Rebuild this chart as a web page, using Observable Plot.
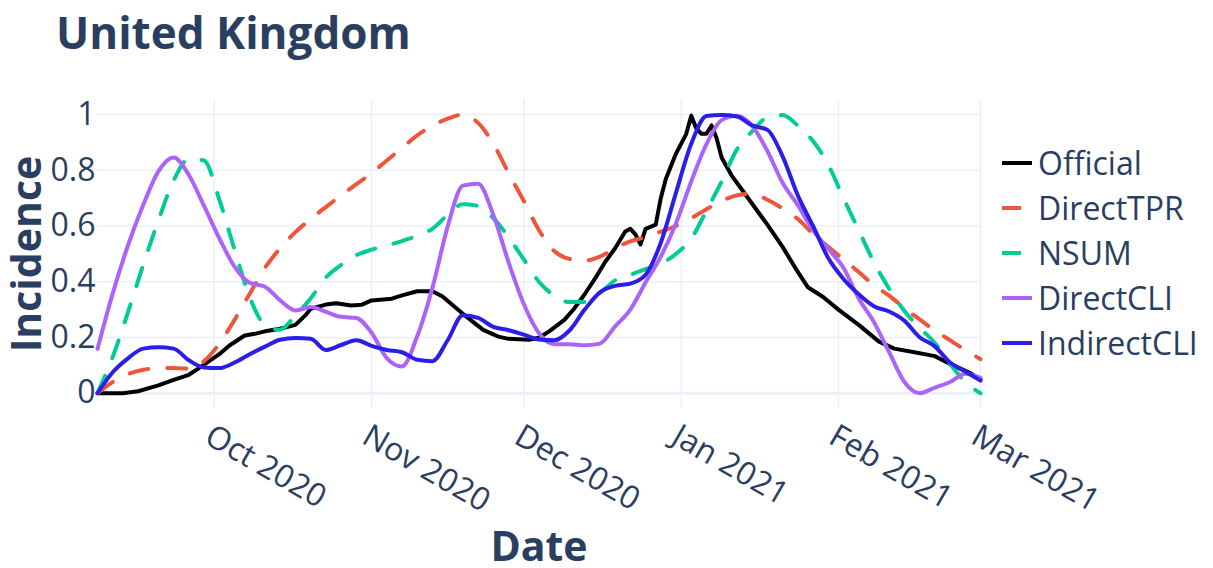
<!DOCTYPE html>
<html>
<head>
<meta charset="utf-8">
<script src="https://cdn.jsdelivr.net/npm/d3@7"></script>
<script src="https://cdn.jsdelivr.net/npm/@observablehq/plot@0.6"></script>
<style>
  body { margin: 0; background: #fff; font-family: "Open Sans", sans-serif; }
  #wrap { position: relative; width: 1213px; height: 568px; overflow: hidden; background: #fff; }
  #title { position: absolute; left: 56px; top: 10px; font-size: 44px; line-height: 44px; font-weight: 700; color: #2a3f5f; white-space: nowrap; }
  #chart { position: absolute; left: 0; top: 80px; }
  #legend { position: absolute; left: 1002px; top: 140px; }
  .item { display: flex; align-items: center; height: 45px; font-size: 32px; color: #2a3f5f; white-space: nowrap; }
  .item svg { margin-right: 6px; flex: none; }
</style>
</head>
<body>
<div id="wrap">
  <div id="title">United Kingdom</div>
  <div id="chart"></div>
  <div id="legend"></div>
</div>
<script>
// ---- data ----
const seriesNames = ["Official", "DirectTPR", "NSUM", "DirectCLI", "IndirectCLI"];
const seriesColors = ["#000000", "#ef553b", "#00cc96", "#ab63fa", "#2b1ee6"];
const seriesDashed = [false, true, true, false, false];

const dates = ["2020-09-08","2020-09-11","2020-09-14","2020-09-17","2020-09-20","2020-09-23","2020-09-26","2020-09-29","2020-10-02","2020-10-05",
"2020-10-08","2020-10-11","2020-10-14","2020-10-17","2020-10-20","2020-10-23","2020-10-26","2020-10-29","2020-11-01","2020-11-04",
"2020-11-07","2020-11-10","2020-11-13","2020-11-16","2020-11-19","2020-11-22","2020-11-25","2020-11-28","2020-12-01","2020-12-04",
"2020-12-07","2020-12-10","2020-12-13","2020-12-16","2020-12-19","2020-12-22","2020-12-25","2020-12-28","2020-12-31","2021-01-03",
"2021-01-06","2021-01-09","2021-01-12","2021-01-15","2021-01-18","2021-01-21","2021-01-24","2021-01-27","2021-01-30","2021-02-02",
"2021-02-05","2021-02-08","2021-02-11","2021-02-14","2021-02-17","2021-02-20","2021-02-23","2021-02-26","2021-03-01"];

const directTPR = [0.0,0.04,0.068,0.084,0.09,0.09,0.088,0.115,0.178,0.263,
0.357,0.45,0.52,0.578,0.625,0.668,0.71,0.75,0.79,0.835,
0.88,0.925,0.96,0.985,1.0,0.97,0.895,0.79,0.69,0.585,
0.51,0.482,0.476,0.49,0.52,0.545,0.56,0.58,0.60,0.628,
0.66,0.69,0.71,0.716,0.694,0.663,0.625,0.572,0.525,0.48,
0.435,0.387,0.35,0.305,0.265,0.225,0.19,0.155,0.122];

const nsum = [0.0,0.13,0.29,0.46,0.62,0.763,0.841,0.835,0.695,0.515,
0.345,0.245,0.228,0.28,0.34,0.415,0.46,0.495,0.515,0.53,
0.546,0.565,0.59,0.64,0.678,0.672,0.628,0.56,0.48,0.40,
0.35,0.327,0.327,0.36,0.405,0.425,0.445,0.465,0.50,0.555,
0.655,0.76,0.875,0.94,0.99,0.998,0.96,0.905,0.82,0.70,
0.585,0.47,0.375,0.295,0.235,0.18,0.105,0.04,0.0];

const directCLI = [0.159,0.358,0.53,0.675,0.796,0.846,0.783,0.672,0.556,0.454,
0.396,0.382,0.333,0.297,0.309,0.292,0.274,0.27,0.217,0.126,
0.096,0.204,0.378,0.598,0.745,0.752,0.64,0.47,0.32,0.215,
0.176,0.176,0.172,0.178,0.24,0.30,0.397,0.49,0.61,0.76,
0.894,0.98,0.996,0.96,0.869,0.755,0.675,0.585,0.518,0.45,
0.34,0.255,0.147,0.04,0.0,0.02,0.04,0.07,0.055];

const indirectCLI = [0.0,0.075,0.125,0.16,0.165,0.16,0.118,0.092,0.09,0.11,
0.14,0.167,0.192,0.198,0.195,0.155,0.173,0.19,0.17,0.155,
0.147,0.12,0.115,0.19,0.28,0.27,0.238,0.226,0.21,0.193,
0.19,0.225,0.30,0.362,0.385,0.393,0.425,0.54,0.72,0.895,
0.995,0.998,0.993,0.961,0.945,0.85,0.71,0.6,0.485,0.41,
0.355,0.312,0.293,0.26,0.201,0.168,0.11,0.078,0.045];

const officialDates = ["2020-09-08","2020-09-13","2020-09-16","2020-09-20","2020-09-23","2020-09-26","2020-09-28","2020-10-02","2020-10-04","2020-10-07",
"2020-10-09","2020-10-11","2020-10-14","2020-10-17","2020-10-19","2020-10-20","2020-10-23","2020-10-25","2020-10-28","2020-10-30",
"2020-11-01","2020-11-05","2020-11-07","2020-11-10","2020-11-13","2020-11-15","2020-11-18","2020-11-20","2020-11-23","2020-11-26",
"2020-11-28","2020-12-02","2020-12-04","2020-12-06","2020-12-09","2020-12-11","2020-12-13","2020-12-15","2020-12-17","2020-12-19",
"2020-12-21","2020-12-22","2020-12-23","2020-12-24","2020-12-25","2020-12-27","2020-12-28","2020-12-29","2020-12-31","2021-01-02",
"2021-01-03","2021-01-04","2021-01-05","2021-01-06","2021-01-07","2021-01-08","2021-01-09","2021-01-11","2021-01-13","2021-01-15",
"2021-01-18","2021-01-21","2021-01-24","2021-01-26","2021-01-29","2021-02-01","2021-02-05","2021-02-09","2021-02-12","2021-02-16",
"2021-02-20","2021-02-23","2021-02-27","2021-03-01"];
const officialValues = [0,0,0.007,0.028,0.048,0.066,0.09,0.14,0.171,0.207,
0.213,0.222,0.231,0.245,0.28,0.303,0.318,0.323,0.315,0.317,
0.333,0.339,0.351,0.366,0.366,0.347,0.30,0.27,0.227,0.203,
0.195,0.192,0.199,0.222,0.263,0.305,0.355,0.41,0.47,0.52,
0.58,0.59,0.57,0.534,0.59,0.605,0.70,0.77,0.86,0.93,
0.996,0.95,0.931,0.931,0.961,0.915,0.845,0.78,0.73,0.68,
0.605,0.525,0.435,0.38,0.345,0.30,0.245,0.185,0.16,0.147,
0.133,0.105,0.072,0.05];

const xTickDates = ["2020-10-01","2020-11-01","2020-12-01","2021-01-01","2021-02-01","2021-03-01"];
const xTickLabels = ["Oct 2020","Nov 2020","Dec 2020","Jan 2021","Feb 2021","Mar 2021"];
const yTicks = [0, 0.2, 0.4, 0.6, 0.8, 1];
const yTickLabels = ["0", "0.2", "0.4", "0.6", "0.8", "1"];
const xDomain = ["2020-09-08", "2021-03-01"];
const yDomain = [-0.055, 1.054];

// ---- build tables ----
const parse = s => new Date(s + "T00:00:00Z");
const gridSeries = [null, directTPR, nsum, directCLI, indirectCLI];
const tables = seriesNames.map((name, si) => {
  if (si === 0) return officialDates.map((d, i) => ({date: parse(d), value: officialValues[i], name}));
  return dates.map((d, i) => ({date: parse(d), value: gridSeries[si][i], name}));
});
const xTicks = xTickDates.map(parse);
const ink = "#2a3f5f";
const gridColor = "#ebf0f8";

const lineMarks = tables.map((t, si) => Plot.line(t, {
  x: "date", y: "value",
  stroke: seriesColors[si], strokeWidth: 4,
  strokeDasharray: seriesDashed[si] ? "19,19" : null,
  curve: si === 0 ? "linear" : "monotone-x",
  strokeLinejoin: "round"
}));

const chart = Plot.plot({
  width: 1213, height: 488,
  marginLeft: 97, marginRight: 233, marginTop: 19, marginBottom: 160,
  style: {fontFamily: "'Open Sans', sans-serif", color: ink, background: "white", overflow: "visible"},
  x: {type: "utc", domain: xDomain.map(parse)},
  y: {domain: yDomain},
  marks: [
    Plot.gridX(xTicks, {stroke: gridColor, strokeOpacity: 1, strokeWidth: 1.5}),
    Plot.gridY(yTicks.slice(1), {stroke: gridColor, strokeOpacity: 1, strokeWidth: 1.5}),
    Plot.ruleY([0], {stroke: gridColor, strokeWidth: 3}),
    Plot.axisY(yTicks, {tickSize: 0, tickPadding: 2, fontSize: 32, fill: ink, label: null,
      tickFormat: d => yTickLabels[yTicks.indexOf(d)]}),
    Plot.axisX(xTicks, {tickSize: 0, label: null, tickFormat: () => ""}),
    Plot.text(xTicks, {x: d => d, text: (d, i) => xTickLabels[i], frameAnchor: "bottom",
      rotate: 30, textAnchor: "start", lineAnchor: "top", dx: 0, dy: 14, fontSize: 32, fill: ink}),
    Plot.text(["Date"], {text: d => d, frameAnchor: "bottom", textAnchor: "middle", lineAnchor: "bottom", dy: 152,
      fontSize: 41, fontWeight: 700, fill: ink}),
    Plot.text(["Incidence"], {text: d => d, frameAnchor: "left", textAnchor: "middle", lineAnchor: "middle",
      rotate: -90, dx: -70, fontSize: 41, fontWeight: 700, fill: ink}),
    ...lineMarks
  ]
});
document.getElementById("chart").appendChild(chart);

// ---- legend ----
const legend = document.getElementById("legend");
seriesNames.forEach((name, si) => {
  const item = document.createElement("div");
  item.className = "item";
  item.innerHTML = `<svg width="30" height="10"><line x1="0" y1="5" x2="30" y2="5" stroke="${seriesColors[si]}" stroke-width="4" ${seriesDashed[si] ? 'stroke-dasharray="19,19"' : ''}/></svg><span>${name}</span>`;
  legend.appendChild(item);
});
</script>
</body>
</html>
